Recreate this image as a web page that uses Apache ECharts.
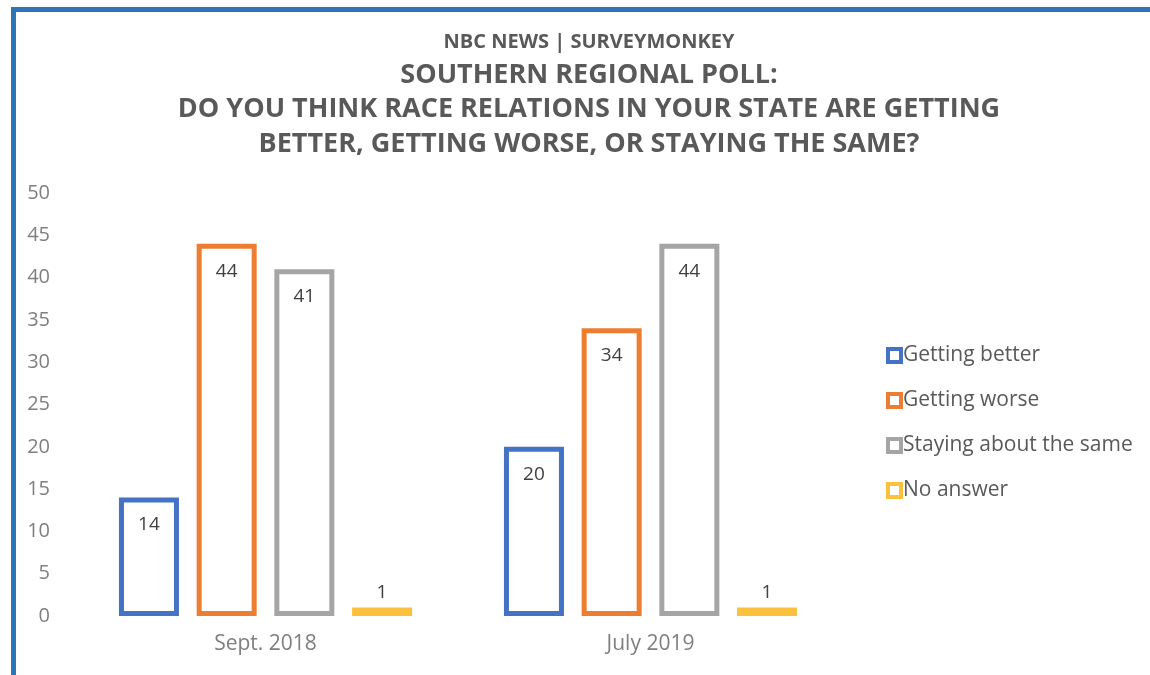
<!DOCTYPE html>
<html><head><meta charset="utf-8">
<script src="https://cdn.jsdelivr.net/npm/echarts@6/dist/echarts.min.js"></script>
<style>html,body{margin:0;padding:0;background:#fff}#c{width:1150px;height:675px}</style>
</head><body><div id="c"></div>
<script>
const categories = ['Sept. 2018', 'July 2019'];
const seriesNames = ['Getting better', 'Getting worse', 'Staying about the same', 'No answer'];
const gettingBetter = [14, 20];
const gettingWorse = [44, 34];
const stayingSame = [41, 44];
const noAnswer = [1, 1];
const yTicks = [0, 5, 10, 15, 20, 25, 30, 35, 40, 45, 50];

const colors = ['#4472C4', '#ED7D31', '#A5A5A5', '#FBC13E'];
const values = [gettingBetter, gettingWorse, stayingSame, noAnswer];
const FONT = '"Open Sans", sans-serif';

const series = seriesNames.map((name, i) => ({
  name: name,
  type: 'bar',
  barWidth: 60,
  barGap: '29.5%',
  itemStyle: { color: '#ffffff', borderColor: colors[i], borderWidth: 5 },
  label: { show: true, position: 'insideTop', distance: 18, color: '#404040', fontSize: 19, fontFamily: FONT },
  data: values[i].map(v => v < 5
    ? { value: v, label: { position: 'top', distance: 5 } }
    : v)
}));

const chart = echarts.init(document.getElementById('c'));
chart.setOption({
  animation: false,
  backgroundColor: '#ffffff',
  graphic: [{
    type: 'rect', left: 11, top: 7, z: 100,
    shape: { width: 1200, height: 720 },
    style: { fill: 'none', stroke: '#2E75B6', lineWidth: 5 }
  }],
  title: [{
    text: 'NBC NEWS | SURVEYMONKEY',
    left: 584, top: 27, textAlign: 'center',
    textStyle: { fontFamily: FONT, fontWeight: 'bold', fontSize: 20, color: '#595959' }
  }, {
    text: 'SOUTHERN REGIONAL POLL:\nDO YOU THINK RACE RELATIONS IN YOUR STATE ARE GETTING\nBETTER, GETTING WORSE, OR STAYING THE SAME?',
    left: 584, top: 53, textAlign: 'center',
    textStyle: { fontFamily: FONT, fontWeight: 'bold', fontSize: 27, lineHeight: 34.5, color: '#595959', align: 'center' }
  }],
  legend: {
    orient: 'vertical', left: 881, top: 340, itemGap: 24,
    itemWidth: 13, itemHeight: 13, icon: 'rect',
    itemStyle: { borderWidth: 4 },
    textStyle: { fontFamily: FONT, fontSize: 21, color: '#595959', padding: [0, 0, 0, -3] },
    data: seriesNames
  },
  grid: { left: 73, right: 307, top: 193, bottom: 59 },
  xAxis: {
    type: 'category', data: categories,
    axisLine: { show: false }, axisTick: { show: false },
    axisLabel: { fontFamily: FONT, fontSize: 21, color: '#7F7F7F', margin: 18 }
  },
  yAxis: {
    type: 'value', min: yTicks[0], max: yTicks[yTicks.length - 1], interval: 5,
    splitLine: { show: false }, axisLine: { show: false }, axisTick: { show: false },
    axisLabel: { fontFamily: FONT, fontSize: 20, color: '#7F7F7F', margin: 23 }
  },
  series: series
});
</script></body></html>
